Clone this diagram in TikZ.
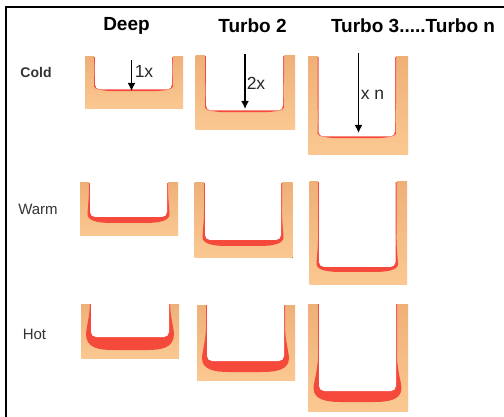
\documentclass[tikz,border=0pt]{standalone}
\usepackage{fontspec}
\setmainfont{Liberation Sans}
\usetikzlibrary{arrows.meta}
\definecolor{wallTop}{HTML}{EFB078}
\definecolor{wallBot}{HTML}{FBC892}
\definecolor{hotRed}{HTML}{F5493C}
\tikzset{
  head/.style={font=\fontsize{19}{22}\selectfont\bfseries,inner sep=0pt,anchor=center},
  rowlabel/.style={font=\fontsize{15}{17}\selectfont,inner sep=0pt,text=black!80,anchor=center},
  arrowlabel/.style={font=\fontsize{17.5}{20}\selectfont,inner sep=0pt,text=black!85,anchor=center},
  depth/.style={-{Latex[length=8pt,width=8pt]},line width=1.6pt},
  framing/.style={line width=2pt,line cap=rect}
}
% x0 x1 y0 y1 inner-x0 inner-x1 inner-bottom red-bottom red-flare
\newcommand{\ushape}[9]{%
  \fill[top color=wallTop,bottom color=wallBot] (#1,#3) rectangle (#2,#4);
  \fill[hotRed] (#5-1,#3)
    -- (#5-1,{max(#3,#7-33)})
    .. controls (#5-#9*0.3,#7-20) and (#5-#9*0.9,#7-10) .. (#5-#9,#7-3)
    .. controls (#5-#9,#8-2) and (#5+8,#8) .. (#5+22,#8)
    -- (#6-22,#8)
    .. controls (#6-8,#8) and (#6+#9,#8-2) .. (#6+#9,#7-3)
    .. controls (#6+#9*0.9,#7-10) and (#6+#9*0.3,#7-20) .. (#6+1,{max(#3,#7-33)})
    -- (#6+1,#3) -- cycle;
  \fill[white,rounded corners=5pt] (#5,#3-6) -- (#5,#7) -- (#6,#7) -- (#6,#3-6) -- cycle;
  \fill[white] (#5-1,#3-7) rectangle (#6+1,#3);
}
\begin{document}
\begin{tikzpicture}[x=1pt,y=-1pt]
\useasboundingbox (0,0) rectangle (504,417);
\fill[white] (0,0) rectangle (504,417);
% cold
\ushape{85}{183}{57}{108.5}{95}{172}{89.5}{91.2}{1}
\ushape{195.5}{295}{56}{130}{206}{283}{110.5}{112.2}{1}
\ushape{308}{408}{57}{155}{318.5}{395}{136.5}{138.2}{1}
% warm
\ushape{80}{178}{183}{236}{90}{167}{217}{223}{2.5}
\ushape{194.5}{292.5}{183}{258}{205}{281}{240}{246}{2.5}
\ushape{309.5}{407}{182}{285}{319}{395.5}{267}{272}{2.5}
% hot
\ushape{81}{179}{304}{358}{91}{169}{337}{350}{5}
\ushape{197}{295}{305}{380}{207}{284}{361}{372}{5}
\ushape{308}{408}{304}{411}{319}{396}{391}{402}{5.5}
% frame
\coordinate (fa) at (504,7);
\coordinate (fb) at (6.2,7);
\coordinate (fc) at (6.2,417);
\draw[framing] (fa) -- (fb) -- (fc);
% headings
\node[head] (deep) at (126.5,25.5) {Deep};
\node[head] (t2) at (252.5,25.5) {Turbo 2};
\node[head] (t3) at (413,25.5) {Turbo 3.....Turbo n};
% rows
\node[rowlabel,font=\fontsize{14}{16}\selectfont\bfseries] (cold) at (36,72) {Cold};
\node[rowlabel] (warm) at (38,209) {Warm};
\node[rowlabel] (hot) at (34.5,334) {Hot};
% arrows
\coordinate (a1s) at (131.5,60);
\coordinate (a1e) at (131.5,91);
\coordinate (a2s) at (245,54);
\coordinate (a2e) at (245,109);
\coordinate (a3s) at (358.5,53);
\coordinate (a3e) at (358.5,133);
\draw[depth] (a1s) -- (a1e);
\draw[depth] (a2s) -- (a2e);
\draw[depth] (a3s) -- (a3e);
\node[arrowlabel] (l1) at (144,71) {1x};
\node[arrowlabel] (l2) at (256,83) {2x};
\node[arrowlabel] (l3) at (372.5,95) {x n};
\end{tikzpicture}
\end{document}
